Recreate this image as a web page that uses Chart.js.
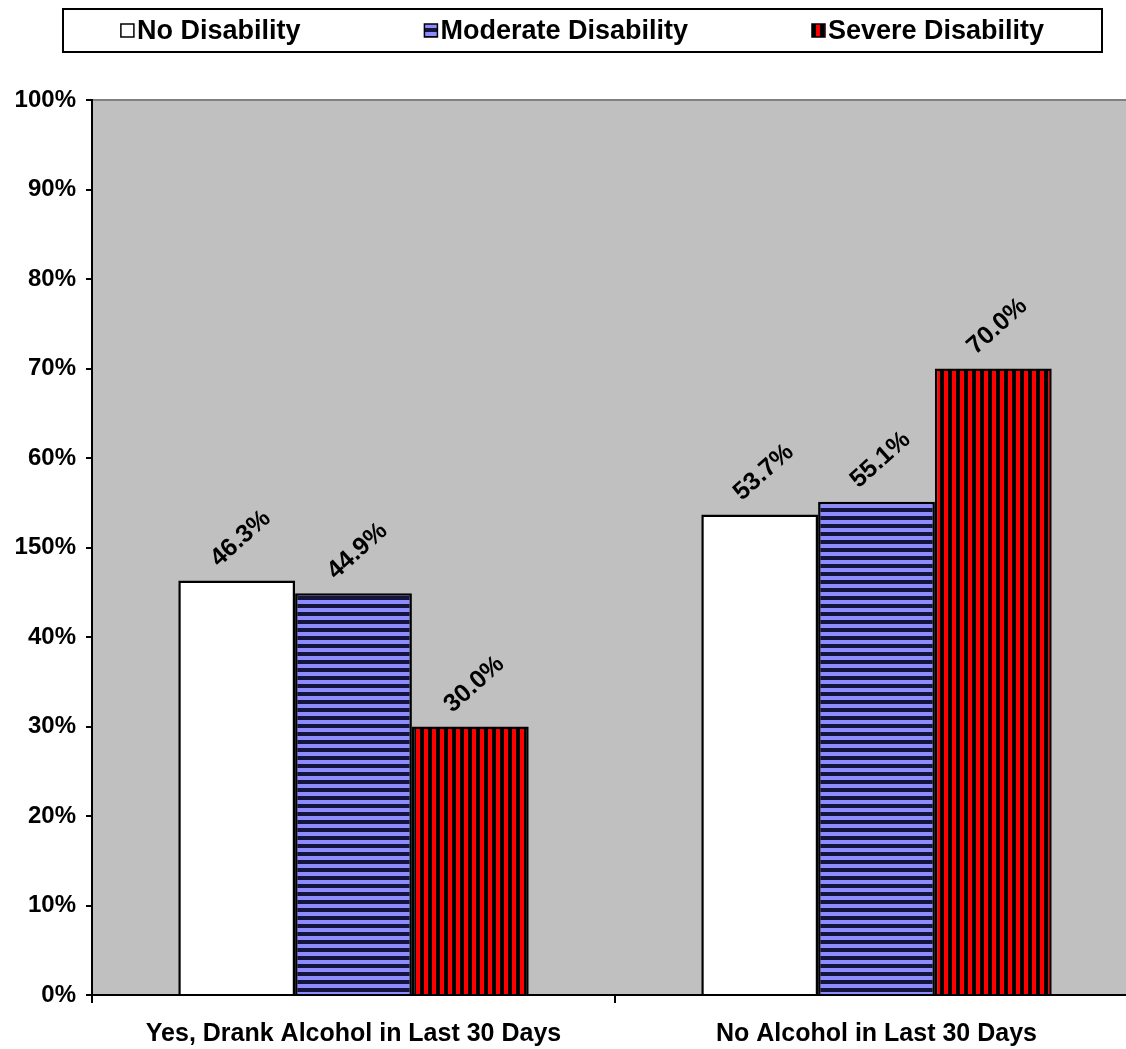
<!DOCTYPE html>
<html>
<head>
  <title>Alcohol Use by Disability</title>
  <script src="https://cdn.jsdelivr.net/npm/chart.js"></script>
</head>
<body style="margin: 0; background: white; overflow: hidden;">
  <div style="width: 1140px; height: 1049px;">
    <canvas id="alcoholChart"></canvas>
  </div>
  <script>
    const categories = ['Yes, Drank Alcohol in Last 30 Days', 'No Alcohol in Last 30 Days'];
    const seriesNames = ['No Disability', 'Moderate Disability', 'Severe Disability'];
    const noDisability = [46.3, 53.7];
    const moderateDisability = [44.9, 55.1];
    const severeDisability = [30.0, 70.0];
    // the original chart really says 150% at the 50% line
    const yTickLabels = ['0%', '10%', '20%', '30%', '40%', '150%', '60%', '70%', '80%', '90%', '100%'];

    const ctx = document.getElementById('alcoholChart').getContext('2d');

    function stripes(bg, fg, vertical) {
      const c = document.createElement('canvas');
      c.width = 8; c.height = 8;
      const g = c.getContext('2d');
      g.fillStyle = bg;
      g.fillRect(0, 0, 8, 8);
      g.fillStyle = fg;
      if (vertical) g.fillRect(4, 0, 4, 8);
      else g.fillRect(0, 4, 8, 4);
      return ctx.createPattern(c, 'repeat');
    }

    const bold = size => ({ family: 'Arial', size: size, weight: 'bold' });

    const plotBackground = {
      id: 'plotBackground',
      beforeDraw(chart) {
        const a = chart.chartArea, c = chart.ctx;
        c.save();
        c.fillStyle = '#C0C0C0';
        c.fillRect(a.left, a.top, a.right - a.left, a.bottom - a.top);
        c.strokeStyle = '#808080';
        c.lineWidth = 2;
        c.beginPath();
        c.moveTo(a.left, a.top);
        c.lineTo(a.right, a.top);
        c.stroke();
        c.restore();
      }
    };

    const boxedLegend = {
      id: 'boxedLegend',
      afterDraw(chart) {
        const c = chart.ctx;
        const left = 63, right = 1102, top = 9, bottom = 52;
        const mid = (top + bottom) / 2;
        const box = 13, gap = 124, textGap = 3;
        c.save();
        c.lineWidth = 2;
        c.strokeStyle = '#000';
        c.strokeRect(left, top, right - left, bottom - top);
        c.font = 'bold 27px Arial';
        c.textBaseline = 'middle';
        const sets = chart.data.datasets;
        const widths = sets.map(d => box + textGap + c.measureText(d.label).width);
        const total = widths.reduce((s, w) => s + w, 0) + gap * (widths.length - 1);
        let x = (left + right) / 2 - total / 2;
        sets.forEach((d, i) => {
          c.fillStyle = d.backgroundColor;
          c.fillRect(x, mid - box / 2, box, box);
          c.lineWidth = 1.5;
          c.strokeRect(x, mid - box / 2, box, box);
          c.fillStyle = '#000';
          c.fillText(d.label, x + box + textGap, mid + 1);
          x += widths[i] + gap;
        });
        c.restore();
      }
    };

    const barValues = {
      id: 'barValues',
      afterDatasetsDraw(chart) {
        const c = chart.ctx;
        c.save();
        c.font = 'bold 25px Arial';
        c.fillStyle = '#000';
        c.textAlign = 'center';
        c.textBaseline = 'middle';
        chart.data.datasets.forEach((d, i) => {
          chart.getDatasetMeta(i).data.forEach((bar, j) => {
            c.save();
            c.translate(bar.x + 4, bar.y - 42);
            c.rotate(-42 * Math.PI / 180);
            c.fillText(d.data[j].toFixed(1) + '%', 0, 0);
            c.restore();
          });
        });
        c.restore();
      }
    };

    new Chart(ctx, {
      type: 'bar',
      data: {
        labels: categories,
        datasets: [
          { label: seriesNames[0], data: noDisability, backgroundColor: '#FFFFFF' },
          { label: seriesNames[1], data: moderateDisability, backgroundColor: stripes('#8C8CFF', '#14143C', false) },
          { label: seriesNames[2], data: severeDisability, backgroundColor: stripes('#FF0000', '#000000', true) }
        ].map(d => Object.assign(d, { borderColor: '#000', borderWidth: 2.5, categoryPercentage: 0.67, barPercentage: 1 }))
      },
      options: {
        responsive: true,
        maintainAspectRatio: false,
        animation: false,
        layout: { padding: { top: 100, right: 2 } },
        plugins: { legend: { display: false }, tooltip: { enabled: false } },
        scales: {
          x: {
            grid: { drawOnChartArea: false, color: '#000', lineWidth: 2, tickLength: 8 },
            border: { color: '#000', width: 2 },
            ticks: { color: '#000', font: bold(25), padding: 16, maxRotation: 0 },
            afterFit(s) { s.height = 54; }
          },
          y: {
            min: 0,
            max: 100,
            grid: { drawOnChartArea: false, color: '#000', lineWidth: 2, tickLength: 6 },
            border: { color: '#000', width: 2 },
            ticks: {
              stepSize: 10,
              color: '#000',
              font: bold(24),
              padding: 10,
              callback: v => yTickLabels[Math.round(v / 10)]
            },
            afterFit(s) { s.width = 92; }
          }
        }
      },
      plugins: [plotBackground, boxedLegend, barValues]
    });
  </script>
</body>
</html>
